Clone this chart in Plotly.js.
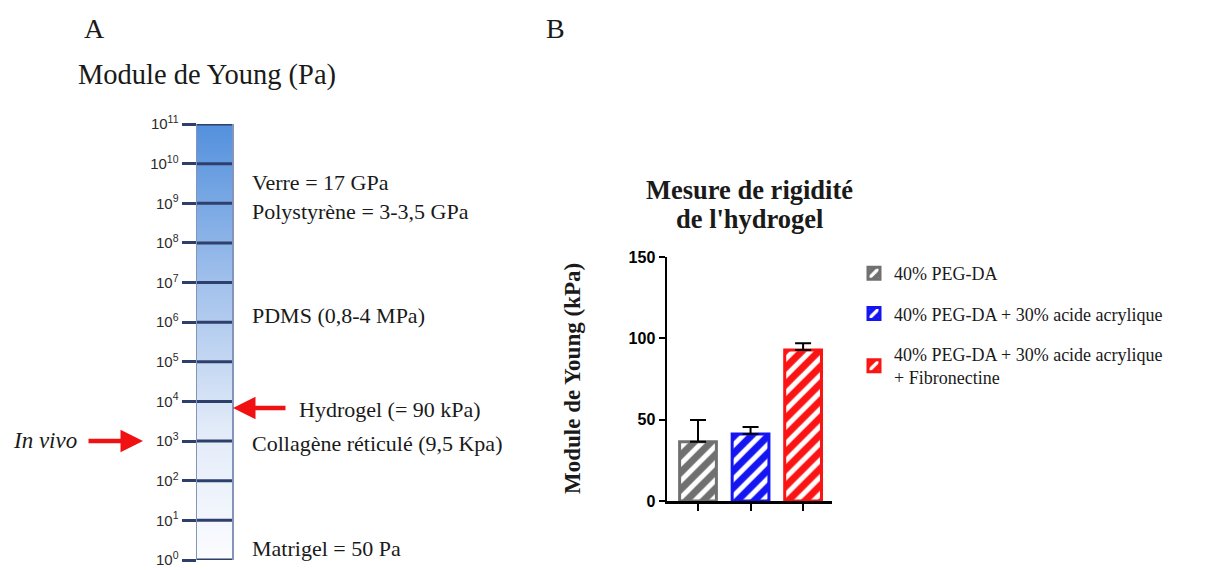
<!DOCTYPE html>
<html><head><meta charset="utf-8">
<script src="https://cdn.plot.ly/plotly-3.0.1.min.js"></script>
<style>html,body{margin:0;padding:0;background:#fff}#chart{width:1211px;height:570px}</style>
</head><body><div id="chart"></div>
<script>
// ---- Panel A data: logarithmic scale of Young's modulus (exponents of 10) ----
const scaleExponents = [0, 1, 2, 3, 4, 5, 6, 7, 8, 9, 10, 11];
const scaleTickLabels = ['10<sup>0</sup>', '10<sup>1</sup>', '10<sup>2</sup>', '10<sup>3</sup>', '10<sup>4</sup>', '10<sup>5</sup>',
  '10<sup>6</sup>', '10<sup>7</sup>', '10<sup>8</sup>', '10<sup>9</sup>', '10<sup>10</sup>', '10<sup>11</sup>'];
const materialLabels = ['Verre = 17 GPa', 'Polystyrène = 3-3,5 GPa', 'PDMS (0,8-4 MPa)',
  'Hydrogel (= 90 kPa)', 'Collagène réticulé (9,5 Kpa)', 'Matrigel = 50 Pa'];

// ---- Panel B data ----
const groups = ['40% PEG-DA', '40% PEG-DA + 30% acide acrylique', '40% PEG-DA + 30% acide acrylique<br>+ Fibronectine'];
const youngModulus = [36.5, 41.2, 92.9];
const errorUp = [13.3, 4.3, 4.1];

const barColors = ['#707070', '#1515f2', '#fa1414'];
const W = 1211, H = 570;
const px = x => x / W, py = y => 1 - y / H;
const SERIF = 'Liberation Serif, Times New Roman, serif';
const SANS = 'Liberation Sans, Arial, sans-serif';
const TXT = '#1a1a1a';

const eMin = scaleExponents[0], eMax = scaleExponents[scaleExponents.length - 1];

const traces = [{
  type: 'scatter', mode: 'lines', xaxis: 'x2', yaxis: 'y2',
  x: [0, 1, 1, 0, 0], y: [eMin, eMin, eMax, eMax, eMin],
  fill: 'toself', line: {width: 0},
  fillcolor: '#a9c6ec',
  fillgradient: {type: 'vertical', colorscale: [[0, '#fbfcff'], [0.3, '#e2ebf8'], [0.6, '#a8c5ed'], [1, '#5390dd']]},
  hoverinfo: 'skip', showlegend: false
}];

groups.forEach((g, i) => {
  traces.push({
    type: 'bar', xaxis: 'x', yaxis: 'y',
    x: [g], y: [youngModulus[i]], name: g, width: 0.7,
    legendgroup: 'g' + i,
    marker: {
      color: barColors[i],
      line: {color: barColors[i], width: 3},
      pattern: {shape: '/', fillmode: 'overlay', fgcolor: '#ffffff', fgopacity: 1, size: 12, solidity: 0.42}
    },
    error_y: {type: 'data', symmetric: false, array: [errorUp[i]], arrayminus: [0], color: '#000', thickness: 2, width: 8}
  });
});

const shapes = scaleExponents.map(e => ({
  type: 'line', xref: 'x2 domain', yref: 'y2', x0: 0, x1: 1, y0: e, y1: e,
  line: {color: '#2e3f6b', width: 3}, layer: 'above'
}));

const materialPos = [[250, 182], [250, 211], [250, 316], [297, 409], [250, 443], [250, 548]];
const annotations = [
  {text: 'A', x: px(82), y: py(28), xanchor: 'left', yanchor: 'middle', font: {family: SERIF, size: 28, color: TXT}},
  {text: 'B', x: px(544), y: py(28), xanchor: 'left', yanchor: 'middle', font: {family: SERIF, size: 28, color: TXT}},
  {text: 'Module de Young (Pa)', x: px(76), y: py(75), xanchor: 'left', yanchor: 'middle', font: {family: SERIF, size: 28.5, color: TXT}},
  {text: '<i>In vivo</i>', x: px(11), y: py(440), xanchor: 'left', yanchor: 'middle', font: {family: SERIF, size: 23, color: TXT}},
  {text: 'Mesure de rigidité', x: px(749), y: py(190), xanchor: 'center', yanchor: 'middle',
    font: {family: SERIF, size: 26.5, color: TXT, weight: 'bold'}},
  {text: 'de l\'hydrogel', x: px(749), y: py(219), xanchor: 'center', yanchor: 'middle',
    font: {family: SERIF, size: 26.5, color: TXT, weight: 'bold'}},
  {text: 'Module de Young (kPa)', x: px(572), y: py(379), textangle: -90, xanchor: 'center', yanchor: 'middle',
    font: {family: SERIF, size: 23, color: TXT, weight: 'bold'}},
  {text: '', x: px(233), y: py(408), ax: 54, ay: 0, showarrow: true, arrowhead: 2, arrowsize: 1, arrowwidth: 4.5, arrowcolor: '#f01212', standoff: 0},
  {text: '', x: px(143), y: py(441), ax: -56, ay: 0, showarrow: true, arrowhead: 2, arrowsize: 1, arrowwidth: 4.5, arrowcolor: '#f01212', standoff: 0}
];
materialLabels.forEach((t, i) => annotations.push({
  text: t, x: px(materialPos[i][0]), y: py(materialPos[i][1]), xanchor: 'left', yanchor: 'middle',
  font: {family: SERIF, size: 22, color: TXT}
}));
annotations.forEach(a => { a.xref = 'paper'; a.yref = 'paper'; if (!a.showarrow) a.showarrow = false; });

const layout = {
  width: W, height: H, autosize: false,
  margin: {l: 0, r: 0, t: 0, b: 0, pad: 0},
  paper_bgcolor: '#fff', plot_bgcolor: 'rgba(0,0,0,0)',
  barmode: 'overlay', showlegend: true,
  legend: {x: px(854), y: py(255), xanchor: 'left', yanchor: 'top', traceorder: 'grouped', tracegroupgap: 14,
    font: {family: SERIF, size: 18, color: TXT}, bgcolor: 'rgba(0,0,0,0)'},
  xaxis: {domain: [px(667), px(832)], anchor: 'y', type: 'category', range: [-0.59, 2.55],
    showline: true, linecolor: '#000', linewidth: 2.5, ticks: 'outside', ticklen: 7, tickwidth: 2, tickcolor: '#000',
    showticklabels: false, showgrid: false, zeroline: false, fixedrange: true},
  yaxis: {domain: [py(501), py(257)], anchor: 'x', range: [0, 150], tickvals: [0, 50, 100, 150],
    showline: true, linecolor: '#000', linewidth: 2.5, ticks: 'outside', ticklen: 6, tickwidth: 2, tickcolor: '#000',
    tickfont: {family: SANS, size: 16, color: '#000', weight: 'bold'}, showgrid: false, zeroline: false, fixedrange: true},
  xaxis2: {domain: [px(197), px(232)], anchor: 'y2', range: [0, 1], visible: false, fixedrange: true},
  yaxis2: {domain: [py(560), py(124)], anchor: 'x2', range: [eMin, eMax], tickvals: scaleExponents, ticktext: scaleTickLabels,
    ticks: 'outside', ticklen: 14, tickwidth: 3, tickcolor: '#2e3f6b',
    showline: true, mirror: true, linecolor: '#8595b8', linewidth: 1.5,
    tickfont: {family: SANS, size: 15, color: '#2a2a2a'}, showgrid: false, zeroline: false, fixedrange: true},
  shapes: shapes, annotations: annotations
};

Plotly.newPlot('chart', traces, layout, {displayModeBar: false, staticPlot: true});
</script>
</body></html>
